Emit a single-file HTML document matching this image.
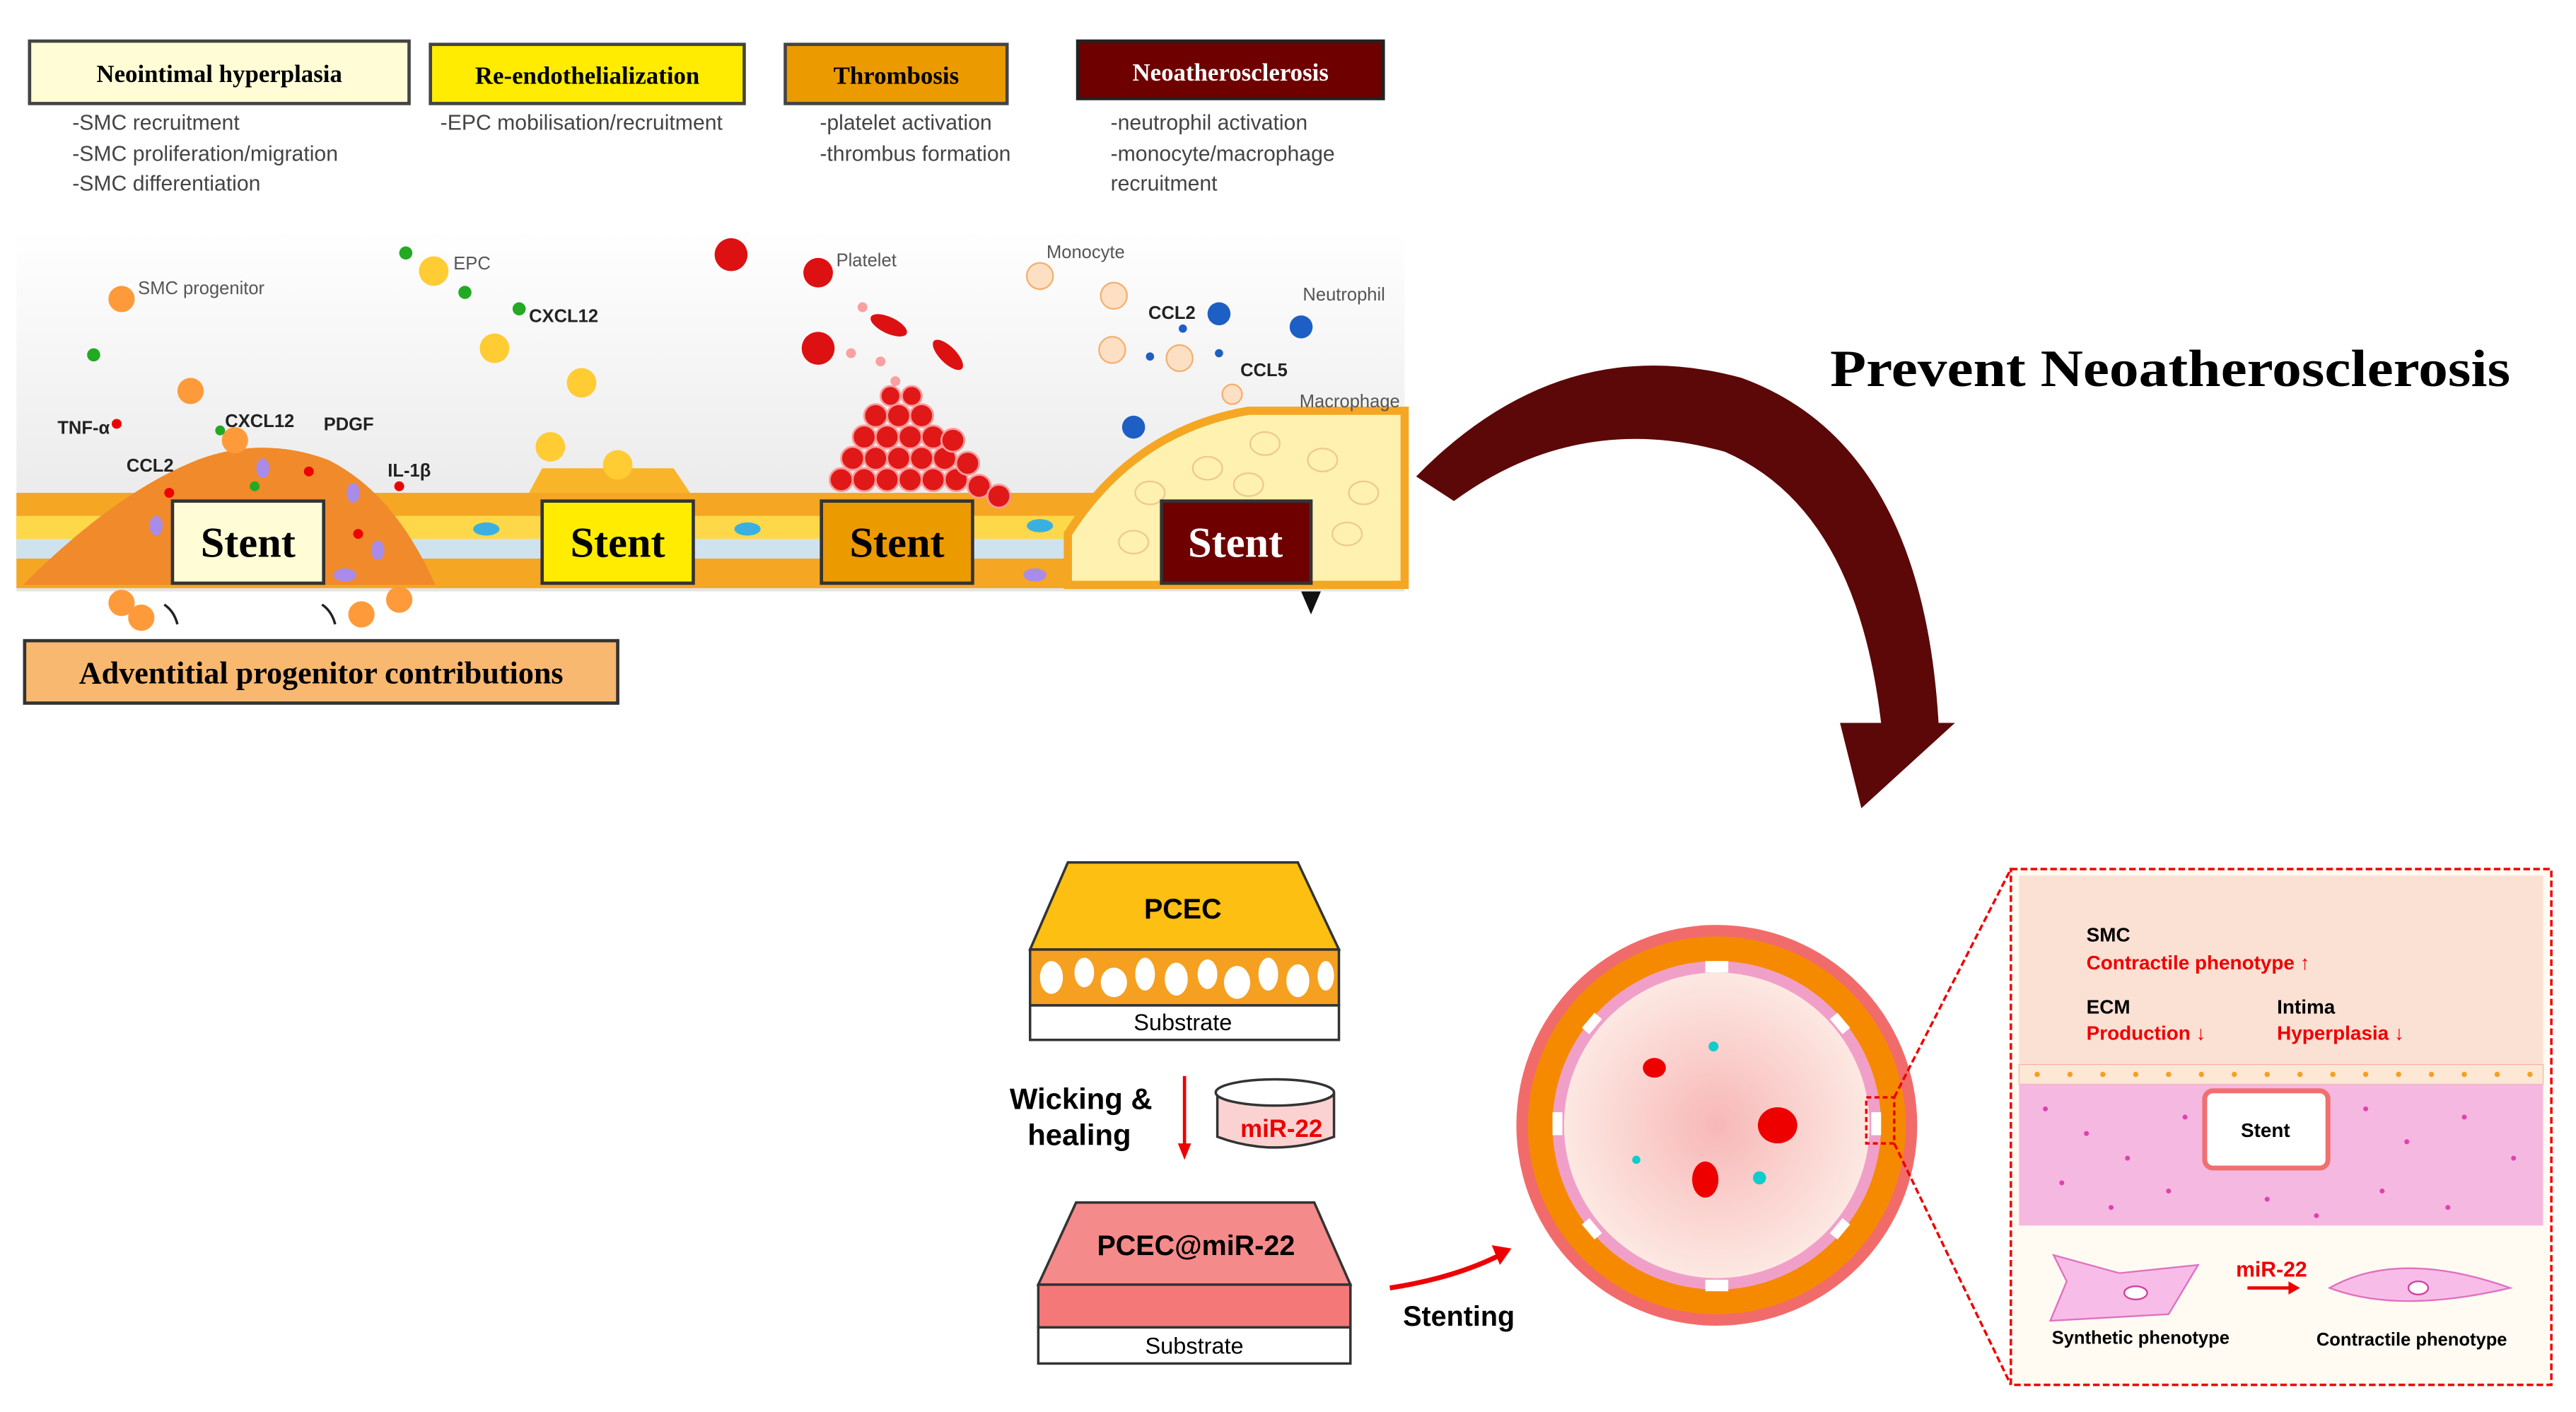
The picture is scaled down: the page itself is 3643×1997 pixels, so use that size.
<!DOCTYPE html>
<html><head><meta charset="utf-8"><style>
html,body{margin:0;padding:0;background:#fff;}
svg{display:block;}
.sr{font-family:"Liberation Serif",serif;font-weight:bold;}
.ss{font-family:"Liberation Sans",sans-serif;}
</style></head><body>
<svg width="3643" height="1997" viewBox="0 0 1568 859.5" xmlns="http://www.w3.org/2000/svg">
<defs>
<linearGradient id="bg" x1="0" y1="0" x2="0" y2="1"><stop offset="0" stop-color="#fff"/><stop offset="1" stop-color="#e4e4e4"/></linearGradient>
<radialGradient id="lum"><stop offset="0" stop-color="#f7b8b8"/><stop offset="1" stop-color="#fde8e2"/></radialGradient>
</defs>
<rect x="18" y="25" width="231" height="38" fill="#fffcd6" stroke="#444" stroke-width="2"/>
<text x="133.5" y="50" class="sr" font-size="15" text-anchor="middle">Neointimal hyperplasia</text>
<rect x="262" y="27" width="191" height="36" fill="#ffec00" stroke="#444" stroke-width="2"/>
<text x="357.5" y="51" class="sr" font-size="15" text-anchor="middle">Re-endothelialization</text>
<rect x="478" y="27" width="135" height="36" fill="#eb9a00" stroke="#444" stroke-width="2"/>
<text x="545.5" y="51" class="sr" font-size="15" text-anchor="middle">Thrombosis</text>
<rect x="656" y="25" width="186" height="35" fill="#6e0000" stroke="#222" stroke-width="2"/>
<text x="749" y="49" class="sr" font-size="15" fill="#fff" text-anchor="middle">Neoatherosclerosis</text>
<g class="ss" font-size="13" fill="#444">
<text x="44" y="79">-SMC recruitment</text>
<text x="44" y="98">-SMC proliferation/migration</text>
<text x="44" y="116">-SMC differentiation</text>
<text x="268" y="79">-EPC mobilisation/recruitment</text>
<text x="499" y="79">-platelet activation</text>
<text x="499" y="98">-thrombus formation</text>
<text x="676" y="79">-neutrophil activation</text>
<text x="676" y="98">-monocyte/macrophage</text>
<text x="676" y="116">recruitment</text>
</g>
<rect x="10" y="140" width="845" height="220" fill="url(#bg)"/>
<rect x="10" y="300" width="845" height="58" fill="#f5a623"/>
<rect x="10" y="314" width="845" height="14" fill="#ffd84a"/>
<rect x="10" y="328" width="845" height="12" fill="#cfe3ef"/>
<path d="M14 356 Q70 300 120 280 Q160 265 200 280 Q240 300 265 356 Z" fill="#f08a2a"/>
<g fill="#a98ce8"><ellipse cx="95" cy="320" rx="4" ry="6"/><ellipse cx="160" cy="285" rx="4" ry="6"/><ellipse cx="215" cy="300" rx="4" ry="6"/><ellipse cx="230" cy="335" rx="4" ry="6"/><ellipse cx="210" cy="350" rx="7" ry="4"/><ellipse cx="630" cy="350" rx="7" ry="4"/></g>
<g fill="#3ab0e0"><ellipse cx="296" cy="322" rx="8" ry="4"/><ellipse cx="455" cy="322" rx="8" ry="4"/><ellipse cx="633" cy="320" rx="8" ry="4"/><circle cx="356" cy="295" r="4"/><circle cx="395" cy="296" r="4"/></g>
<path d="M322 300 L330 285 L410 285 L420 300 Z" fill="#f9b52a"/>
<g fill="#e01818" stroke="#ff9a9a" stroke-width="1.2">
<circle cx="512" cy="292" r="7"/><circle cx="526" cy="292" r="7"/><circle cx="540" cy="292" r="7"/><circle cx="554" cy="292" r="7"/><circle cx="568" cy="292" r="7"/><circle cx="582" cy="292" r="7"/><circle cx="596" cy="296" r="7"/><circle cx="608" cy="302" r="7"/>
<circle cx="519" cy="279" r="7"/><circle cx="533" cy="279" r="7"/><circle cx="547" cy="279" r="7"/><circle cx="561" cy="279" r="7"/><circle cx="575" cy="279" r="7"/><circle cx="589" cy="282" r="7"/>
<circle cx="526" cy="266" r="7"/><circle cx="540" cy="266" r="7"/><circle cx="554" cy="266" r="7"/><circle cx="568" cy="266" r="7"/><circle cx="580" cy="268" r="7"/>
<circle cx="533" cy="253" r="7"/><circle cx="547" cy="253" r="7"/><circle cx="561" cy="253" r="7"/>
<circle cx="542" cy="241" r="6"/><circle cx="555" cy="241" r="6"/></g>
<path d="M650 325 Q690 262 760 250 L855 250 L855 356 L650 356 Z" fill="#fff2b0" stroke="#f5a623" stroke-width="5"/>
<g fill="none" stroke="#f0c890" stroke-width="1"><ellipse cx="700" cy="300" rx="9" ry="7"/><ellipse cx="735" cy="285" rx="9" ry="7"/><ellipse cx="770" cy="270" rx="9" ry="7"/><ellipse cx="805" cy="280" rx="9" ry="7"/><ellipse cx="830" cy="300" rx="9" ry="7"/><ellipse cx="690" cy="330" rx="9" ry="7"/><ellipse cx="820" cy="325" rx="9" ry="7"/><ellipse cx="760" cy="295" rx="9" ry="7"/></g>
<g fill="#ff9a3a"><circle cx="74" cy="182" r="8"/><circle cx="116" cy="238" r="8"/><circle cx="143" cy="268" r="8"/><circle cx="74" cy="367" r="8"/><circle cx="86" cy="376" r="8"/><circle cx="220" cy="374" r="8"/><circle cx="243" cy="365" r="8"/></g>
<g fill="#ffcc33"><circle cx="264" cy="165" r="9"/><circle cx="301" cy="212" r="9"/><circle cx="354" cy="233" r="9"/><circle cx="335" cy="272" r="9"/><circle cx="376" cy="283" r="9"/></g>
<g fill="#dd1111"><circle cx="445" cy="155" r="10"/><circle cx="498" cy="166" r="9"/><circle cx="498" cy="212" r="10"/><ellipse cx="541" cy="198" rx="12" ry="5" transform="rotate(25 541 198)"/><ellipse cx="577" cy="216" rx="12" ry="5" transform="rotate(45 577 216)"/></g>
<g fill="#f9a0a0"><circle cx="525" cy="187" r="3"/><circle cx="518" cy="215" r="3"/><circle cx="536" cy="220" r="3"/><circle cx="545" cy="232" r="3"/></g>
<g fill="#fde0c4" stroke="#f5b070"><circle cx="633" cy="168" r="8"/><circle cx="678" cy="180" r="8"/><circle cx="677" cy="213" r="8"/><circle cx="718" cy="218" r="8"/><circle cx="750" cy="240" r="6"/></g>
<g fill="#1d5fc4"><circle cx="742" cy="191" r="7"/><circle cx="792" cy="199" r="7"/><circle cx="690" cy="260" r="7"/><circle cx="720" cy="200" r="2.5"/><circle cx="700" cy="217" r="2.5"/><circle cx="742" cy="215" r="2.5"/></g>
<g fill="#2a2"><circle cx="247" cy="154" r="4"/><circle cx="283" cy="178" r="4"/><circle cx="316" cy="188" r="4"/><circle cx="57" cy="216" r="4"/><circle cx="134" cy="262" r="3"/><circle cx="155" cy="296" r="3"/></g>
<g fill="#e00"><circle cx="71" cy="258" r="3"/><circle cx="103" cy="300" r="3"/><circle cx="188" cy="287" r="3"/><circle cx="243" cy="296" r="3"/><circle cx="218" cy="325" r="3"/></g>
<g class="ss" font-size="11" fill="#222">
<text x="84" y="179" fill="#555">SMC progenitor</text><text x="276" y="164" fill="#555">EPC</text>
<text x="322" y="196" font-weight="bold">CXCL12</text><text x="509" y="162" fill="#555">Platelet</text>
<text x="637" y="157" fill="#555">Monocyte</text><text x="793" y="183" fill="#555">Neutrophil</text>
<text x="699" y="194" font-weight="bold">CCL2</text><text x="755" y="229" font-weight="bold">CCL5</text>
<text x="791" y="248" fill="#555">Macrophage</text><text x="35" y="264" font-weight="bold">TNF-α</text>
<text x="137" y="260" font-weight="bold">CXCL12</text><text x="197" y="262" font-weight="bold">PDGF</text>
<text x="77" y="287" font-weight="bold">CCL2</text><text x="236" y="290" font-weight="bold">IL-1β</text>
</g>
<rect x="105" y="305" width="92" height="50" fill="#fffcd6" stroke="#333" stroke-width="2"/>
<rect x="330" y="305" width="92" height="50" fill="#ffec00" stroke="#333" stroke-width="2"/>
<rect x="500" y="305" width="92" height="50" fill="#eb9a00" stroke="#333" stroke-width="2"/>
<rect x="707" y="305" width="91" height="50" fill="#6e0000" stroke="#333" stroke-width="2"/>
<g class="sr" font-size="26" text-anchor="middle"><text x="151" y="339">Stent</text><text x="376" y="339">Stent</text><text x="546" y="339">Stent</text><text x="752" y="339" fill="#fff">Stent</text></g>
<path d="M792 360 L804 360 L798 374 Z" fill="#111"/>
<path d="M100 368 Q106 372 108 380" stroke="#222" stroke-width="1.5" fill="none"/><path d="M196 368 Q202 372 204 380" stroke="#222" stroke-width="1.5" fill="none"/>
<rect x="15" y="390" width="361" height="38" fill="#f9b870" stroke="#333" stroke-width="2"/>
<text x="195.5" y="416" class="sr" font-size="19" text-anchor="middle">Adventitial progenitor contributions</text>
<text x="1114" y="235" class="sr" font-size="32" textLength="414" lengthAdjust="spacingAndGlyphs">Prevent Neoatherosclerosis</text>
<path d="M862 290 Q950 200 1060 230 Q1170 270 1180 440 L1190 440 L1133 492 L1120 440 L1145 440 Q1130 310 1050 275 Q960 250 885 305 Z" fill="#5c0808"/>
<path d="M650 525 L790 525 L815 578 L627 578 Z" fill="#fcbf12" stroke="#333" stroke-width="1.5"/>
<text x="720" y="559" class="ss" font-weight="bold" font-size="17" text-anchor="middle">PCEC</text>
<rect x="627" y="578" width="188" height="34" fill="#f5a020" stroke="#333" stroke-width="1.5"/>
<g fill="#fff"><ellipse cx="640" cy="595" rx="7" ry="10"/><ellipse cx="660" cy="592" rx="6" ry="9"/><ellipse cx="678" cy="598" rx="8" ry="9"/><ellipse cx="697" cy="593" rx="6" ry="10"/><ellipse cx="716" cy="596" rx="7" ry="10"/><ellipse cx="735" cy="593" rx="6" ry="9"/><ellipse cx="753" cy="598" rx="8" ry="10"/><ellipse cx="772" cy="593" rx="6" ry="10"/><ellipse cx="790" cy="597" rx="7" ry="10"/><ellipse cx="807" cy="594" rx="5" ry="9"/></g>
<rect x="627" y="612" width="188" height="21" fill="#fff" stroke="#333" stroke-width="1.5"/>
<text x="720" y="627" class="ss" font-size="14" text-anchor="middle">Substrate</text>
<text x="658" y="675" class="ss" font-weight="bold" font-size="18" text-anchor="middle">Wicking &amp;</text>
<text x="657" y="697" class="ss" font-weight="bold" font-size="18" text-anchor="middle">healing</text>
<line x1="721" y1="655" x2="721" y2="698" stroke="#e00" stroke-width="2"/><path d="M717 696 L725 696 L721 706 Z" fill="#e00"/>
<path d="M741 665 L741 692 Q776 705 812 692 L812 665" fill="#fbd2d2" stroke="#333" stroke-width="1.5"/>
<ellipse cx="776" cy="665" rx="36" ry="8" fill="#fff" stroke="#333" stroke-width="1.5"/>
<text x="780" y="692" class="ss" font-weight="bold" font-size="15" fill="#e00" text-anchor="middle">miR-22</text>
<path d="M655 732 L800 732 L822 782 L632 782 Z" fill="#f58a8a" stroke="#333" stroke-width="1.5"/>
<text x="728" y="764" class="ss" font-weight="bold" font-size="17" text-anchor="middle">PCEC@miR-22</text>
<rect x="632" y="782" width="190" height="26" fill="#f57878" stroke="#333" stroke-width="1.5"/>
<rect x="632" y="808" width="190" height="22" fill="#fff" stroke="#333" stroke-width="1.5"/>
<text x="727" y="824" class="ss" font-size="14" text-anchor="middle">Substrate</text>
<path d="M846 784 Q885 778 913 764" stroke="#e00" stroke-width="3" fill="none"/><path d="M908 758 L920 760 L913 770 Z" fill="#e00"/>
<text x="888" y="807" class="ss" font-weight="bold" font-size="17" text-anchor="middle">Stenting</text>
<ellipse cx="1045" cy="685" rx="122" ry="122" fill="#f26b6b"/>
<ellipse cx="1045" cy="685" rx="115" ry="115" fill="#f58a00"/>
<ellipse cx="1045" cy="685" rx="100" ry="100" fill="#f0a0c8"/>
<ellipse cx="1045" cy="685" rx="93" ry="93" fill="url(#lum)"/>
<g fill="#fff"><rect x="1038" y="585" width="14" height="7"/><rect x="1038" y="779" width="14" height="7"/><rect x="945" y="677" width="6" height="14"/><rect x="1139" y="677" width="6" height="14"/><rect x="966" y="617" width="6" height="12" transform="rotate(40 969 623)"/><rect x="1117" y="617" width="6" height="12" transform="rotate(-40 1120 623)"/><rect x="966" y="742" width="6" height="12" transform="rotate(-40 969 748)"/><rect x="1117" y="742" width="6" height="12" transform="rotate(40 1120 748)"/></g>
<g fill="#e00"><ellipse cx="1007" cy="650" rx="7" ry="6"/><ellipse cx="1082" cy="685" rx="12" ry="11"/><ellipse cx="1038" cy="718" rx="8" ry="11"/></g>
<g fill="#1cc"><circle cx="1043" cy="637" r="3"/><circle cx="996" cy="706" r="2.5"/><circle cx="1071" cy="717" r="4"/></g>
<rect x="1136" y="668" width="17" height="28" fill="none" stroke="#e00" stroke-width="1.5" stroke-dasharray="3 2"/>
<line x1="1153" y1="668" x2="1224" y2="529" stroke="#e00" stroke-width="1.5" stroke-dasharray="4 2"/>
<line x1="1153" y1="696" x2="1224" y2="843" stroke="#e00" stroke-width="1.5" stroke-dasharray="4 2"/>
<rect x="1224" y="529" width="329" height="314" fill="#fffaf2" stroke="#e00" stroke-width="1.5" stroke-dasharray="4 2"/>
<rect x="1229" y="533" width="319" height="117" fill="#fbe0d4"/>
<rect x="1229" y="648" width="319" height="12" fill="#fde8d6" stroke="#f5b0a0" stroke-width="0.5"/>
<g fill="#f5a020"><circle cx="1240" cy="654" r="1.6"/><circle cx="1260" cy="654" r="1.6"/><circle cx="1280" cy="654" r="1.6"/><circle cx="1300" cy="654" r="1.6"/><circle cx="1320" cy="654" r="1.6"/><circle cx="1340" cy="654" r="1.6"/><circle cx="1360" cy="654" r="1.6"/><circle cx="1380" cy="654" r="1.6"/><circle cx="1400" cy="654" r="1.6"/><circle cx="1420" cy="654" r="1.6"/><circle cx="1440" cy="654" r="1.6"/><circle cx="1460" cy="654" r="1.6"/><circle cx="1480" cy="654" r="1.6"/><circle cx="1500" cy="654" r="1.6"/><circle cx="1520" cy="654" r="1.6"/><circle cx="1540" cy="654" r="1.6"/></g>
<rect x="1229" y="660" width="319" height="86" fill="#f5b8e0"/>
<g fill="#e040b0"><circle cx="1245" cy="675" r="1.5"/><circle cx="1270" cy="690" r="1.5"/><circle cx="1295" cy="705" r="1.5"/><circle cx="1255" cy="720" r="1.5"/><circle cx="1285" cy="735" r="1.5"/><circle cx="1320" cy="725" r="1.5"/><circle cx="1330" cy="680" r="1.5"/><circle cx="1440" cy="675" r="1.5"/><circle cx="1465" cy="695" r="1.5"/><circle cx="1500" cy="680" r="1.5"/><circle cx="1530" cy="705" r="1.5"/><circle cx="1450" cy="725" r="1.5"/><circle cx="1490" cy="735" r="1.5"/><circle cx="1380" cy="730" r="1.5"/><circle cx="1410" cy="740" r="1.5"/></g>
<rect x="1342" y="664" width="75" height="47" rx="5" fill="#fff" stroke="#f07070" stroke-width="3"/>
<text x="1379" y="692" class="ss" font-weight="bold" font-size="12" text-anchor="middle">Stent</text>
<g class="ss" font-weight="bold" font-size="12">
<text x="1270" y="573">SMC</text><text x="1270" y="590" fill="#e00">Contractile phenotype ↑</text>
<text x="1270" y="617">ECM</text><text x="1270" y="633" fill="#e00">Production ↓</text>
<text x="1386" y="617">Intima</text><text x="1386" y="633" fill="#e00">Hyperplasia ↓</text>
<text x="1361" y="777" fill="#e00" font-size="13">miR-22</text>
</g>
<path d="M1250 764 L1290 775 L1338 770 L1320 800 L1248 804 L1258 780 Z" fill="#f7bde8" stroke="#e070c0"/>
<ellipse cx="1300" cy="787" rx="7" ry="4" fill="#fff" stroke="#d040a0"/>
<line x1="1368" y1="784" x2="1395" y2="784" stroke="#e00" stroke-width="2"/><path d="M1393 780 L1400 784 L1393 788 Z" fill="#e00"/>
<path d="M1418 784 Q1460 760 1528 784 Q1460 800 1418 784 Z" fill="#f7bde8" stroke="#e070c0"/>
<ellipse cx="1472" cy="784" rx="6" ry="4" fill="#fff" stroke="#d040a0"/>
<g class="ss" font-weight="bold" font-size="11"><text x="1303" y="818" text-anchor="middle">Synthetic phenotype</text><text x="1468" y="819" text-anchor="middle">Contractile phenotype</text></g>
</svg>
</body></html>
